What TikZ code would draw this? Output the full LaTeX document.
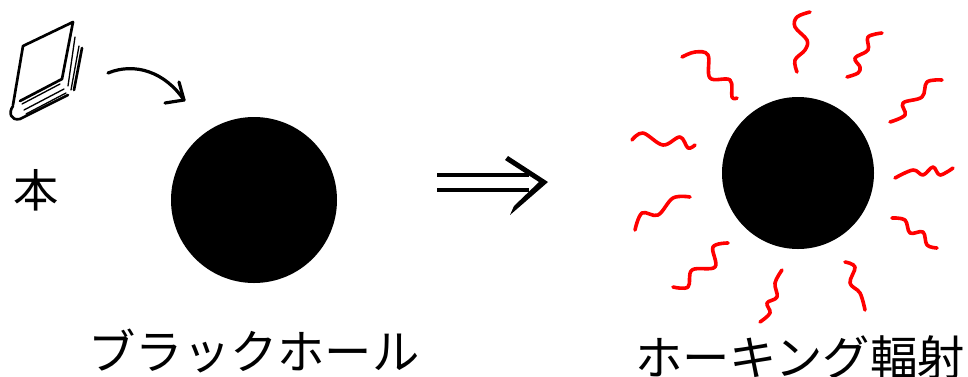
\documentclass[tikz,border=0pt]{standalone}
\usepackage{fontspec}
\newfontfamily\jp{Noto Sans CJK JP}
\usetikzlibrary{arrows.meta}
\begin{document}
\begin{tikzpicture}[x=0.75pt,y=-0.75pt,
  ink/.style={line width=2pt, line cap=round, line join=round},
  thin ink/.style={line width=1pt, line cap=round},
  wave/.style={red, line width=2.7pt, line cap=round, line join=round},
  hole/.style={circle, fill=black, inner sep=0pt},
  caption/.style={font=\jp\fontsize{35.5}{40}\selectfont, inner sep=0pt}]
\path[use as bounding box] (0,0) rectangle (968,376);

% book
\draw[ink] (73,22) -- (23,46) -- (13,105);
\draw[ink] (73,22) -- (62,79) -- (20,101);
\draw[ink] (13,106) .. controls (8,113) and (11,121) .. (20,119) -- (68,95);
\draw[thin ink] (22,104) -- (60,84);
\draw[thin ink] (24,110) -- (64,89);
\draw[thin ink] (26,114) -- (66,93);
\draw[thin ink] (75,37) -- (68,86);
\draw[thin ink] (79,46) -- (71,90);
\draw[ink] (82,48) -- (74,90);
\node[font=\jp\fontsize{34}{40}\selectfont, inner sep=0pt] (book) at (36,190) {本};

% black holes
\node[hole, minimum size=124.5pt] (bh) at (254,200) {};
\node[hole, minimum size=114pt] (bh2) at (798,173) {};

% fall-in arrow
\coordinate (from) at (108,73);
\coordinate (to) at (184,100);
\draw[ink, line width=2.4pt] (from) .. controls (135,62) and (165,72) .. (to);
\draw[ink, line width=2.4pt] (179,82) -- (to) -- (165,103);

% implication arrow
\coordinate (ia) at (437,175);
\coordinate (ib) at (437,190);
\draw[line width=3pt] (ia) -- ++(92,0);
\draw[line width=3pt] (ib) -- ++(92,0);
\fill (508,156) -- (548,182) -- (510,215) -- (514,206) -- (539,182) -- (505,160) -- cycle;

% radiation
\draw[wave] plot[smooth, tension=0.6] coordinates {(810,12) (797,17) (795,27) (807,40) (805,50) (795,60) (797,72)};
\draw[wave] plot[smooth, tension=0.6] coordinates {(882,33) (868,37) (868,50) (855,58) (860,67) (858,73) (847,77)};
\draw[wave] plot[smooth, tension=0.6] coordinates {(942,80) (927,82) (922,97) (903,103) (905,115) (890,122)};
\draw[wave] plot[smooth, tension=0.6] coordinates {(953,168) (940,175) (933,167) (923,175) (913,170) (895,178)};
\draw[wave] plot[smooth, tension=0.6] coordinates {(892,218) (905,220) (910,233) (923,232) (927,245) (937,248)};
\draw[wave] plot[smooth, tension=0.6] coordinates {(845,262) (855,267) (850,283) (860,293) (865,310)};
\draw[wave] plot[smooth, tension=0.6] coordinates {(782,270) (775,283) (777,297) (767,303) (770,313) (760,322)};
\draw[wave] plot[smooth, tension=0.6] coordinates {(728,243) (713,247) (715,267) (692,270) (688,287) (673,287)};
\draw[wave] plot[smooth, tension=0.6] coordinates {(690,197) (673,198) (658,215) (642,213) (635,230)};
\draw[wave] plot[smooth, tension=0.6] coordinates {(632,140) (643,133) (663,145) (680,137) (688,148) (695,145)};
\draw[wave] plot[smooth, tension=0.6] coordinates {(682,57) (695,52) (708,55) (710,78) (730,80) (732,97) (737,98)};

% captions
\node[caption] (bhl) at (254,351) {ブラックホール};
\node[caption] (hrl) at (800,358) {ホーキング輻射};
\end{tikzpicture}
\end{document}
